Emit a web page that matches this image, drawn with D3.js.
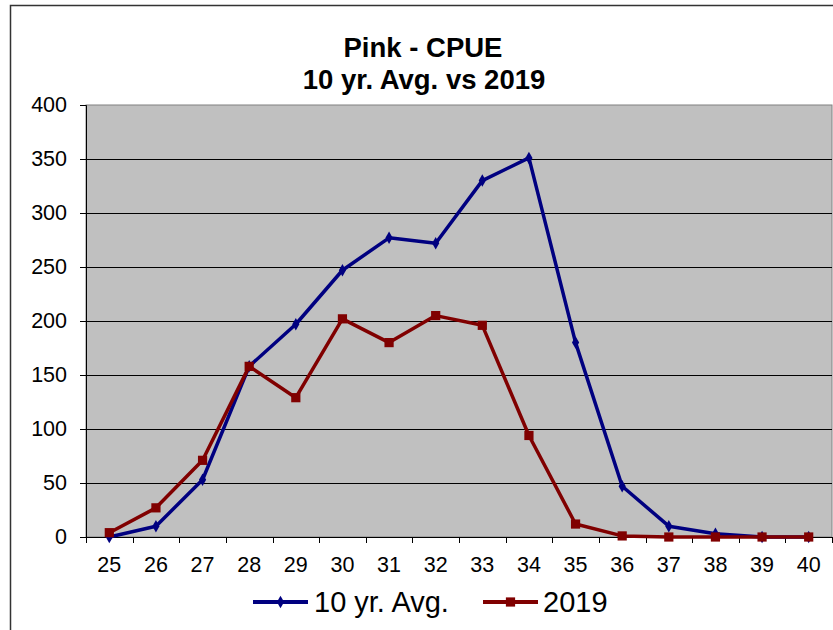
<!DOCTYPE html>
<html lang="en">
<head>
<meta charset="UTF-8">
<title>Pink - CPUE</title>
<script src="https://cdn.jsdelivr.net/npm/d3@7"></script>
<style>
  body { margin: 0; background: #fff; }
  text { font-family: "Liberation Sans", Arial, sans-serif; fill: #000; }
</style>
</head>
<body>
<svg id="chart" width="833" height="630"></svg>
<script>
// data
const categories = ["25","26","27","28","29","30","31","32","33","34","35","36","37","38","39","40"];
const avg10 = [0, 10, 53, 158, 197, 247, 277, 272, 330, 351, 180, 47, 10, 3, 0, 0];
const y2019 = [4, 27, 71, 158, 129, 202, 180, 205, 196, 94, 12, 1, 0, 0, 0, 0];
const yTicks = [0, 50, 100, 150, 200, 250, 300, 350, 400];
const seriesNames = ["10 yr. Avg.", "2019"];

const svg = d3.select("#chart");
const plot = { left: 86, right: 832, top: 105, bottom: 537 };

// outer frame (only left + top edges visible)
svg.append("path")
  .attr("d", "M10.5,630 L10.5,5.5 L833,5.5")
  .attr("fill", "none")
  .attr("stroke", "#333")
  .attr("stroke-width", 1.5);

// title
const title = svg.append("text")
  .attr("text-anchor", "middle")
  .attr("font-weight", "bold")
  .attr("font-size", 27.5);
title.append("tspan").attr("x", 423).attr("y", 57).text("Pink - CPUE");
title.append("tspan").attr("x", 424).attr("y", 89).text("10 yr. Avg. vs 2019");

const x = d3.scaleBand()
  .domain(categories)
  .range([plot.left, plot.right])
  .padding(0);
const cx = d => x(d) + x.bandwidth() / 2;

const y = d3.scaleLinear()
  .domain([0, 400])
  .range([plot.bottom, plot.top]);

// plot background
svg.append("rect")
  .attr("x", plot.left)
  .attr("y", plot.top)
  .attr("width", plot.right - plot.left)
  .attr("height", plot.bottom - plot.top)
  .attr("fill", "#c0c0c0")
  .attr("stroke", "#808080")
  .attr("stroke-width", 1);

// gridlines
svg.append("g")
  .selectAll("line")
  .data(yTicks.filter(t => t > 0 && t < 400))
  .join("line")
  .attr("x1", plot.left)
  .attr("x2", plot.right)
  .attr("y1", d => Math.round(y(d)) + 0.5)
  .attr("y2", d => Math.round(y(d)) + 0.5)
  .attr("stroke", "#000")
  .attr("stroke-width", 1);

// y axis
const yAxis = svg.append("g")
  .attr("transform", `translate(${plot.left},0)`)
  .call(d3.axisLeft(y).tickValues(yTicks).tickSize(6).tickPadding(13));
yAxis.select(".domain").attr("stroke", "#000");
yAxis.selectAll("text").attr("font-size", 21.5).attr("font-family", null);

// x axis: ticks sit between categories
const xAxis = svg.append("g");
xAxis.append("line")
  .attr("x1", plot.left).attr("x2", plot.right)
  .attr("y1", plot.bottom + 0.5).attr("y2", plot.bottom + 0.5)
  .attr("stroke", "#000");
xAxis.selectAll(".tk")
  .data(categories.map(c => x(c)).concat([plot.right]))
  .join("line")
  .attr("class", "tk")
  .attr("x1", d => Math.round(d) + 0.5)
  .attr("x2", d => Math.round(d) + 0.5)
  .attr("y1", plot.bottom)
  .attr("y2", plot.bottom + 6)
  .attr("stroke", "#000");
xAxis.selectAll("text")
  .data(categories)
  .join("text")
  .attr("x", d => cx(d))
  .attr("y", 572)
  .attr("text-anchor", "middle")
  .attr("font-size", 21.5)
  .text(d => d);

// series
const series = [
  { name: seriesNames[0], values: avg10, color: "#000080", symbol: d3.symbolDiamond, size: 45 },
  { name: seriesNames[1], values: y2019, color: "#800000", symbol: d3.symbolSquare, size: 85 }
];

const line = d3.line()
  .x((d, i) => cx(categories[i]))
  .y(d => y(d));

series.forEach(s => {
  svg.append("path")
    .datum(s.values)
    .attr("fill", "none")
    .attr("stroke", s.color)
    .attr("stroke-width", 3.5)
    .attr("stroke-linejoin", "round")
    .attr("d", line);
  svg.append("g")
    .selectAll("path")
    .data(s.values)
    .join("path")
    .attr("transform", (d, i) => `translate(${cx(categories[i])},${y(d)})`)
    .attr("d", d3.symbol().type(s.symbol).size(s.size))
    .attr("fill", s.color);
});

// legend
const legendPos = [
  { lx: 253, tx: 314 },
  { lx: 483, tx: 543 }
];
series.forEach((s, i) => {
  const g = svg.append("g");
  const p = legendPos[i];
  g.append("line")
    .attr("x1", p.lx).attr("x2", p.lx + 55)
    .attr("y1", 602).attr("y2", 602)
    .attr("stroke", s.color)
    .attr("stroke-width", 4);
  g.append("path")
    .attr("transform", `translate(${p.lx + 27.5},602)`)
    .attr("d", d3.symbol().type(s.symbol).size(s.size))
    .attr("fill", s.color);
  g.append("text")
    .attr("x", p.tx)
    .attr("y", 612)
    .attr("font-size", 29)
    .text(s.name);
});
</script>
</body>
</html>
